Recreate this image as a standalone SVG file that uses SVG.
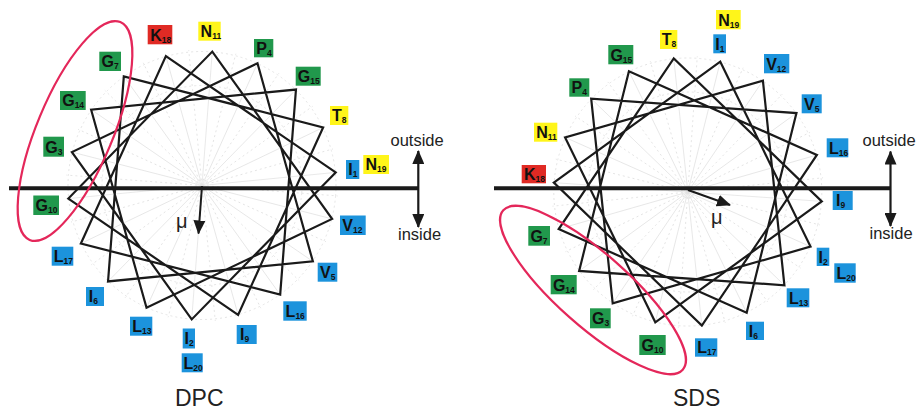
<svg xmlns="http://www.w3.org/2000/svg" xmlns:xlink="http://www.w3.org/1999/xlink" width="917" height="411" viewBox="0 0 917 411">
<style>
.bg{fill:#ffffff}
.spk{stroke:#e4e4e4;stroke-width:0.8;fill:none}
.spd{stroke:#e0e0e0;stroke-width:0.8;stroke-dasharray:2 3;fill:none}
.rim{stroke:#e2e2e2;stroke-width:0.9;stroke-dasharray:2 3;fill:none}
.wheel{fill:none;stroke:#1a1a1a;stroke-width:2.2;stroke-linejoin:miter}
.axis{stroke:#1a1a1a;stroke-width:4;fill:none}
.varr{stroke:#1a1a1a;stroke-width:2.2;fill:none}
.mu{stroke:#1a1a1a;stroke-width:2;fill:none}
.ell{fill:none;stroke:#e4275a;stroke-width:2.2}
.g{fill:#21984c}
.y{fill:#fff51a}
.b{fill:#1c93dc}
.r{fill:#e02a24}
.lab{font-family:"Liberation Sans",Arial,sans-serif;font-weight:bold;font-size:16px;fill:#111}
.sub{font-size:8.5px}
.txt{font-family:"Liberation Sans",Arial,sans-serif;font-size:16.5px;fill:#222}
.mut{font-family:"Liberation Sans",Arial,sans-serif;font-size:20px;fill:#222}
.ttl{font-family:"Liberation Sans",Arial,sans-serif;font-size:23px;fill:#222}
</style>
<defs>
<marker id="ah2" markerWidth="14" markerHeight="12" refX="13" refY="6" orient="auto-start-reverse" markerUnits="userSpaceOnUse" viewBox="0 0 14 12">
<path d="M0,0 L14,6 L0,12 Z" fill="#1a1a1a"/>
</marker>
<line id="sp" x1="0" y1="0" x2="0" y2="-136" class="spk"/>
<line id="sd" x1="0" y1="0" x2="0" y2="-136" class="spd"/>
<g id="spokes">
<use href="#sp"/><use href="#sd" transform="rotate(10)"/><use href="#sp" transform="rotate(20)"/><use href="#sd" transform="rotate(30)"/><use href="#sp" transform="rotate(40)"/><use href="#sd" transform="rotate(50)"/>
<use href="#sp" transform="rotate(60)"/><use href="#sd" transform="rotate(70)"/><use href="#sp" transform="rotate(80)"/><use href="#sd" transform="rotate(90)"/><use href="#sp" transform="rotate(100)"/><use href="#sd" transform="rotate(110)"/>
<use href="#sp" transform="rotate(120)"/><use href="#sd" transform="rotate(130)"/><use href="#sp" transform="rotate(140)"/><use href="#sd" transform="rotate(150)"/><use href="#sp" transform="rotate(160)"/><use href="#sd" transform="rotate(170)"/>
<use href="#sp" transform="rotate(180)"/><use href="#sd" transform="rotate(190)"/><use href="#sp" transform="rotate(200)"/><use href="#sd" transform="rotate(210)"/><use href="#sp" transform="rotate(220)"/><use href="#sd" transform="rotate(230)"/>
<use href="#sp" transform="rotate(240)"/><use href="#sd" transform="rotate(250)"/><use href="#sp" transform="rotate(260)"/><use href="#sd" transform="rotate(270)"/><use href="#sp" transform="rotate(280)"/><use href="#sd" transform="rotate(290)"/>
<use href="#sp" transform="rotate(300)"/><use href="#sd" transform="rotate(310)"/><use href="#sp" transform="rotate(320)"/><use href="#sd" transform="rotate(330)"/><use href="#sp" transform="rotate(340)"/><use href="#sd" transform="rotate(350)"/>
<circle r="134" class="rim"/>
<circle r="100" class="rim"/>
</g>
</defs>
<rect class="bg" x="0" y="0" width="917" height="411"/>

<!-- background grids -->
<use href="#spokes" transform="translate(202,185.5) rotate(4.4)"/>
<use href="#spokes" transform="translate(687.8,192) rotate(14)"/>

<!-- connectors: helical wheel paths, axes, arrows -->
<g id="connectors">
<polygon id="dpc-wheel" class="wheel" points="335.66,172.40 191.70,319.40 71.92,152.10 257.48,63.20 312.85,261.31 108.04,281.45 123.82,76.31 323.12,127.48 238.12,314.85 68.34,198.60 212.30,51.60 332.08,218.90 146.52,307.80 91.15,109.69 295.96,89.55 280.18,294.69 80.88,243.52 165.88,56.15"/>
<polygon id="sds-wheel" class="wheel" points="720.29,61.69 810.49,246.63 612.70,303.34 591.19,98.71 796.45,113.06 746.67,312.71 558.70,229.02 673.76,58.44 821.77,201.37 655.31,322.31 565.11,137.37 762.90,80.66 784.41,285.29 579.15,270.94 628.93,71.29 816.90,154.98 701.84,325.56 553.83,182.63"/>
<line class="axis" x1="9" y1="188.3" x2="418.3" y2="188.3"/>
<line class="axis" x1="494" y1="188.3" x2="890.5" y2="188.3"/>
<line class="varr" x1="418.3" y1="151" x2="418.3" y2="227" marker-start="url(#ah2)" marker-end="url(#ah2)"/>
<line class="varr" x1="890.5" y1="151.5" x2="890.5" y2="226" marker-start="url(#ah2)" marker-end="url(#ah2)"/>
<line class="mu" x1="202" y1="186" x2="198.5" y2="233.5" marker-end="url(#ah2)"/>
<line class="mu" x1="688" y1="190" x2="730" y2="205" marker-end="url(#ah2)"/>
</g>

<!-- axis texts -->
<text class="txt" x="390.5" y="146">outside</text>
<text class="txt" x="398" y="240">inside</text>
<text class="txt" x="862.5" y="145.5">outside</text>
<text class="txt" x="869.5" y="238.5">inside</text>
<text class="mut" x="176" y="227.5">μ</text>
<text class="mut" x="711" y="224">μ</text>
<text class="ttl" x="175" y="405.5">DPC</text>
<text class="ttl" x="673" y="405.5">SDS</text>

<!-- DPC residues -->
<g id="dpc-K18"><rect class="r" x="147.7" y="25" width="24.6" height="19.3"/><text class="lab" x="150.2" y="40.5">K<tspan class="sub" dy="2">18</tspan></text></g>
<g id="dpc-N11"><rect class="y" x="198.3" y="21.7" width="22.4" height="19"/><text class="lab" x="200.6" y="37">N<tspan class="sub" dy="2">11</tspan></text></g>
<g id="dpc-G7"><rect class="g" x="99.3" y="51.7" width="21.7" height="19.3"/><text class="lab" x="101.5" y="67.2">G<tspan class="sub" dy="2">7</tspan></text></g>
<g id="dpc-G14"><rect class="g" x="60" y="91" width="25.7" height="19"/><text class="lab" x="62.2" y="106.3">G<tspan class="sub" dy="2">14</tspan></text></g>
<g id="dpc-G3"><rect class="g" x="43.3" y="136.7" width="20.7" height="20"/><text class="lab" x="45.3" y="152.5">G<tspan class="sub" dy="2">3</tspan></text></g>
<g id="dpc-G10"><rect class="g" x="33.3" y="195.5" width="25.7" height="19.5"/><text class="lab" x="35.5" y="211">G<tspan class="sub" dy="2">10</tspan></text></g>
<g id="dpc-P4"><rect class="g" x="254" y="39" width="19.3" height="18.3"/><text class="lab" x="256.3" y="54">P<tspan class="sub" dy="2">4</tspan></text></g>
<g id="dpc-G15"><rect class="g" x="295.7" y="66.7" width="25" height="19"/><text class="lab" x="297.8" y="82">G<tspan class="sub" dy="2">15</tspan></text></g>
<g id="dpc-T8"><rect class="y" x="330" y="106" width="18.3" height="19"/><text class="lab" x="332" y="121.3">T<tspan class="sub" dy="2">8</tspan></text></g>
<g id="dpc-I1"><rect class="b" x="346" y="160" width="13.3" height="19"/><text class="lab" x="348.2" y="175.3">I<tspan class="sub" dy="2">1</tspan></text></g>
<g id="dpc-N19"><rect class="y" x="363.3" y="155" width="25.7" height="19"/><text class="lab" x="365.5" y="170.3">N<tspan class="sub" dy="2">19</tspan></text></g>
<g id="dpc-V12"><rect class="b" x="340" y="215.5" width="25.7" height="19.5"/><text class="lab" x="342.3" y="231">V<tspan class="sub" dy="2">12</tspan></text></g>
<g id="dpc-V5"><rect class="b" x="317.7" y="262.7" width="19.6" height="19"/><text class="lab" x="320" y="278">V<tspan class="sub" dy="2">5</tspan></text></g>
<g id="dpc-L16"><rect class="b" x="283.3" y="301.3" width="23.4" height="19.4"/><text class="lab" x="285.6" y="316.7">L<tspan class="sub" dy="2">16</tspan></text></g>
<g id="dpc-I9"><rect class="b" x="236.7" y="325" width="20" height="19"/><text class="lab" x="240" y="340.3">I<tspan class="sub" dy="2">9</tspan></text></g>
<g id="dpc-I2"><rect class="b" x="182.7" y="328.5" width="12.3" height="20"/><text class="lab" x="184.5" y="344.3">I<tspan class="sub" dy="2">2</tspan></text></g>
<g id="dpc-L20"><rect class="b" x="181.7" y="353.3" width="21" height="19"/><text class="lab" x="183.5" y="368.6">L<tspan class="sub" dy="2">20</tspan></text></g>
<g id="dpc-L13"><rect class="b" x="130" y="316.7" width="22.3" height="19"/><text class="lab" x="132.2" y="332">L<tspan class="sub" dy="2">13</tspan></text></g>
<g id="dpc-I6"><rect class="b" x="86" y="287" width="18" height="19"/><text class="lab" x="88.8" y="302.3">I<tspan class="sub" dy="2">6</tspan></text></g>
<g id="dpc-L17"><rect class="b" x="51.7" y="246.7" width="21.6" height="19"/><text class="lab" x="53.8" y="262">L<tspan class="sub" dy="2">17</tspan></text></g>

<!-- SDS residues -->
<g id="sds-N19"><rect class="y" x="716" y="10" width="24.7" height="19.3"/><text class="lab" x="718.2" y="25.5">N<tspan class="sub" dy="2">19</tspan></text></g>
<g id="sds-I1"><rect class="b" x="713.3" y="34.3" width="12.7" height="19"/><text class="lab" x="715.3" y="49.6">I<tspan class="sub" dy="2">1</tspan></text></g>
<g id="sds-T8"><rect class="y" x="660" y="30" width="17.3" height="19"/><text class="lab" x="661.8" y="45.3">T<tspan class="sub" dy="2">8</tspan></text></g>
<g id="sds-G15"><rect class="g" x="608.3" y="45" width="25" height="19.3"/><text class="lab" x="610.4" y="60.5">G<tspan class="sub" dy="2">15</tspan></text></g>
<g id="sds-P4"><rect class="g" x="569.3" y="78.3" width="20" height="18.4"/><text class="lab" x="571.6" y="93.3">P<tspan class="sub" dy="2">4</tspan></text></g>
<g id="sds-N11"><rect class="y" x="534" y="122.7" width="23.3" height="19"/><text class="lab" x="536.2" y="138">N<tspan class="sub" dy="2">11</tspan></text></g>
<g id="sds-K18"><rect class="r" x="521.7" y="165" width="24.3" height="18.3"/><text class="lab" x="523.9" y="180">K<tspan class="sub" dy="2">18</tspan></text></g>
<g id="sds-V12"><rect class="b" x="764" y="54" width="25.3" height="19.3"/><text class="lab" x="766.2" y="69.5">V<tspan class="sub" dy="2">12</tspan></text></g>
<g id="sds-V5"><rect class="b" x="801.7" y="94.3" width="20" height="19"/><text class="lab" x="804" y="109.6">V<tspan class="sub" dy="2">5</tspan></text></g>
<g id="sds-L16"><rect class="b" x="826.7" y="138.3" width="21.6" height="19"/><text class="lab" x="828.9" y="153.6">L<tspan class="sub" dy="2">16</tspan></text></g>
<g id="sds-I9"><rect class="b" x="832.7" y="191" width="20" height="19"/><text class="lab" x="836" y="206.3">I<tspan class="sub" dy="2">9</tspan></text></g>
<g id="sds-I2"><rect class="b" x="816.7" y="247.7" width="12.6" height="18.3"/><text class="lab" x="818.6" y="262.7">I<tspan class="sub" dy="2">2</tspan></text></g>
<g id="sds-L20"><rect class="b" x="834.3" y="263.3" width="21.4" height="19.4"/><text class="lab" x="836.4" y="278.8">L<tspan class="sub" dy="2">20</tspan></text></g>
<g id="sds-L13"><rect class="b" x="786.7" y="288.3" width="22.6" height="19"/><text class="lab" x="788.9" y="303.6">L<tspan class="sub" dy="2">13</tspan></text></g>
<g id="sds-I6"><rect class="b" x="746" y="321.7" width="18" height="18.3"/><text class="lab" x="748.8" y="336.7">I<tspan class="sub" dy="2">6</tspan></text></g>
<g id="sds-L17"><rect class="b" x="695" y="338.3" width="22.3" height="18.4"/><text class="lab" x="697.2" y="353.3">L<tspan class="sub" dy="2">17</tspan></text></g>
<g id="sds-G10"><rect class="g" x="639.3" y="335" width="26.4" height="20"/><text class="lab" x="641.5" y="350.8">G<tspan class="sub" dy="2">10</tspan></text></g>
<g id="sds-G3"><rect class="g" x="590" y="308.3" width="20.7" height="20"/><text class="lab" x="592" y="324.1">G<tspan class="sub" dy="2">3</tspan></text></g>
<g id="sds-G14"><rect class="g" x="550.7" y="275" width="26" height="19.3"/><text class="lab" x="552.9" y="290.5">G<tspan class="sub" dy="2">14</tspan></text></g>
<g id="sds-G7"><rect class="g" x="528.3" y="226" width="21.7" height="19.7"/><text class="lab" x="530.4" y="241.6">G<tspan class="sub" dy="2">7</tspan></text></g>

<!-- highlight ellipses -->
<ellipse id="dpc-ellipse" class="ell" cx="0" cy="0" rx="118" ry="38" transform="translate(75,131) rotate(-67.4)"/>
<ellipse id="sds-ellipse" class="ell" cx="0" cy="0" rx="120" ry="36" transform="translate(593,290) rotate(41.6)"/>
</svg>
